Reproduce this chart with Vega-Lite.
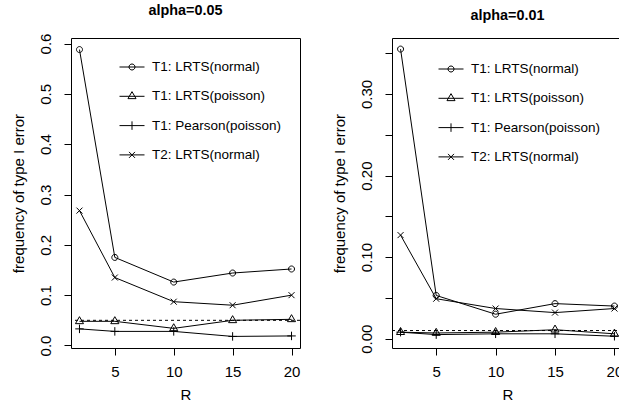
{
  "$schema": "https://vega.github.io/schema/vega-lite/v6.json",
  "padding": {"left": 10, "top": 2, "right": 0, "bottom": 0},
  "background": "white",
  "config": {
    "font": "Liberation Sans",
    "view": {"stroke": "black", "strokeWidth": 1},
    "axis": {
      "domain": false, "grid": false, "tickColor": "black", "tickSize": 7, "tickWidth": 1,
      "labelColor": "black", "labelFontSize": 15, "labelFont": "Liberation Sans",
      "titleColor": "black", "titleFontSize": 15, "titleFontWeight": "normal", "titleFont": "Liberation Sans"
    },
    "axisY": {"labelAngle": 270, "labelAlign": "center", "labelBaseline": "alphabetic", "labelPadding": 14, "titlePadding": 12},
    "axisX": {"labelPadding": 9, "titlePadding": 8},
    "title": {"fontSize": 14.4, "fontWeight": "bold", "color": "black", "font": "Liberation Sans", "offset": 15, "anchor": "middle"},
    "legend": {
      "orient": "none", "title": null, "padding": 0, "symbolSize": 625, "symbolStrokeWidth": 1,
      "symbolStrokeColor": "black", "symbolFillColor": "transparent", "labelFontSize": 13.5,
      "labelColor": "black", "labelFont": "Liberation Sans", "labelOffset": 7, "rowPadding": 9.3
    }
  },
  "bounds": "flush",
  "spacing": 92,
  "datasets": {
    "err": [
      {"panel": "a05", "series": "T1: LRTS(normal)", "R": 2, "value": 0.588},
      {"panel": "a05", "series": "T1: LRTS(normal)", "R": 5, "value": 0.175},
      {"panel": "a05", "series": "T1: LRTS(normal)", "R": 10, "value": 0.126},
      {"panel": "a05", "series": "T1: LRTS(normal)", "R": 15, "value": 0.144},
      {"panel": "a05", "series": "T1: LRTS(normal)", "R": 20, "value": 0.152},
      {"panel": "a05", "series": "T1: LRTS(poisson)", "R": 2, "value": 0.048},
      {"panel": "a05", "series": "T1: LRTS(poisson)", "R": 5, "value": 0.048},
      {"panel": "a05", "series": "T1: LRTS(poisson)", "R": 10, "value": 0.034},
      {"panel": "a05", "series": "T1: LRTS(poisson)", "R": 15, "value": 0.050},
      {"panel": "a05", "series": "T1: LRTS(poisson)", "R": 20, "value": 0.052},
      {"panel": "a05", "series": "T1: Pearson(poisson)", "R": 2, "value": 0.033},
      {"panel": "a05", "series": "T1: Pearson(poisson)", "R": 5, "value": 0.028},
      {"panel": "a05", "series": "T1: Pearson(poisson)", "R": 10, "value": 0.028},
      {"panel": "a05", "series": "T1: Pearson(poisson)", "R": 15, "value": 0.018},
      {"panel": "a05", "series": "T1: Pearson(poisson)", "R": 20, "value": 0.019},
      {"panel": "a05", "series": "T2: LRTS(normal)", "R": 2, "value": 0.268},
      {"panel": "a05", "series": "T2: LRTS(normal)", "R": 5, "value": 0.135},
      {"panel": "a05", "series": "T2: LRTS(normal)", "R": 10, "value": 0.087},
      {"panel": "a05", "series": "T2: LRTS(normal)", "R": 15, "value": 0.080},
      {"panel": "a05", "series": "T2: LRTS(normal)", "R": 20, "value": 0.100},
      {"panel": "a01", "series": "T1: LRTS(normal)", "R": 2, "value": 0.355},
      {"panel": "a01", "series": "T1: LRTS(normal)", "R": 5, "value": 0.053},
      {"panel": "a01", "series": "T1: LRTS(normal)", "R": 10, "value": 0.030},
      {"panel": "a01", "series": "T1: LRTS(normal)", "R": 15, "value": 0.043},
      {"panel": "a01", "series": "T1: LRTS(normal)", "R": 20, "value": 0.040},
      {"panel": "a01", "series": "T1: LRTS(poisson)", "R": 2, "value": 0.008},
      {"panel": "a01", "series": "T1: LRTS(poisson)", "R": 5, "value": 0.007},
      {"panel": "a01", "series": "T1: LRTS(poisson)", "R": 10, "value": 0.008},
      {"panel": "a01", "series": "T1: LRTS(poisson)", "R": 15, "value": 0.011},
      {"panel": "a01", "series": "T1: LRTS(poisson)", "R": 20, "value": 0.006},
      {"panel": "a01", "series": "T1: Pearson(poisson)", "R": 2, "value": 0.008},
      {"panel": "a01", "series": "T1: Pearson(poisson)", "R": 5, "value": 0.005},
      {"panel": "a01", "series": "T1: Pearson(poisson)", "R": 10, "value": 0.006},
      {"panel": "a01", "series": "T1: Pearson(poisson)", "R": 15, "value": 0.006},
      {"panel": "a01", "series": "T1: Pearson(poisson)", "R": 20, "value": 0.003},
      {"panel": "a01", "series": "T2: LRTS(normal)", "R": 2, "value": 0.127},
      {"panel": "a01", "series": "T2: LRTS(normal)", "R": 5, "value": 0.049},
      {"panel": "a01", "series": "T2: LRTS(normal)", "R": 10, "value": 0.037},
      {"panel": "a01", "series": "T2: LRTS(normal)", "R": 15, "value": 0.032},
      {"panel": "a01", "series": "T2: LRTS(normal)", "R": 20, "value": 0.037}
    ]
  },
  "hconcat": [
    {
      "width": 229, "height": 310,
      "title": "alpha=0.05",
      "layer": [
        {
          "data": {"name": "err"},
          "transform": [{"filter": "datum.panel === 'a05'"}],
          "mark": {"type": "line", "color": "black", "strokeWidth": 1},
          "encoding": {
            "x": {"field": "R", "type": "quantitative", "scale": {"domain": [1.28, 20.72], "nice": false, "zero": false}, "axis": {"values": [5, 10, 15, 20], "title": "R"}},
            "y": {"field": "value", "type": "quantitative", "scale": {"domain": [-0.005, 0.611], "nice": false, "zero": false}, "axis": {"values": [0, 0.1, 0.2, 0.3, 0.4, 0.5, 0.6], "format": ".1f", "title": "frequency of type I error"}},
            "detail": {"field": "series"}
          }
        },
        {
          "data": {"name": "err"},
          "transform": [{"filter": "datum.panel === 'a05'"}],
          "mark": {"type": "point", "filled": false, "color": "black", "strokeWidth": 1, "size": 36, "opacity": 1},
          "encoding": {
            "x": {"field": "R", "type": "quantitative"},
            "y": {"field": "value", "type": "quantitative"},
            "shape": {
              "field": "series", "type": "nominal", "legend": null,
              "scale": {
                "domain": ["T1: LRTS(normal)", "T1: LRTS(poisson)", "T1: Pearson(poisson)", "T2: LRTS(normal)"],
                "range": ["M1,0A1,1,0,1,1,-1,0A1,1,0,1,1,1,0", "M0,-1.555L1.347,0.778L-1.347,0.778Z", "M-1.414,0H1.414M0,-1.414V1.414", "M-1,-1L1,1M-1,1L1,-1"]
              }
            }
          }
        },
        {
          "data": {"name": "err"},
          "transform": [{"filter": "datum.panel === 'a05'"}],
          "mark": {"type": "point", "filled": false, "color": "black", "strokeWidth": 1, "size": 625, "opacity": 0},
          "encoding": {
            "x": {"field": "R", "type": "quantitative"},
            "y": {"field": "value", "type": "quantitative"},
            "shape": {
              "field": "series", "type": "nominal",
              "scale": {
                "domain": ["T1: LRTS(normal)", "T1: LRTS(poisson)", "T1: Pearson(poisson)", "T2: LRTS(normal)"],
                "range": ["M-1,0H1M0.24,0A0.24,0.24,0,1,1,-0.24,0A0.24,0.24,0,1,1,0.24,0", "M-1,0H1M0,-0.373L0.323,0.187L-0.323,0.187Z", "M-1,0H1M0,-0.34V0.34", "M-1,0H1M-0.24,-0.24L0.24,0.24M-0.24,0.24L0.24,-0.24"]
              },
              "legend": {"legendX": 48, "legendY": 16}
            }
          }
        },
        {
          "data": {"values": [{"alpha": 0.05}]},
          "mark": {"type": "rule", "color": "black", "strokeWidth": 1, "strokeDash": [3, 3]},
          "encoding": {"y": {"field": "alpha", "type": "quantitative"}}
        }
      ],
      "resolve": {"scale": {"shape": "independent"}, "legend": {"shape": "independent"}}
    },
    {
      "width": 231, "height": 310,
      "title": "alpha=0.01",
      "layer": [
        {
          "data": {"name": "err"},
          "transform": [{"filter": "datum.panel === 'a01'"}],
          "mark": {"type": "line", "color": "black", "strokeWidth": 1},
          "encoding": {
            "x": {"field": "R", "type": "quantitative", "scale": {"domain": [1.28, 20.72], "nice": false, "zero": false}, "axis": {"values": [5, 10, 15, 20], "title": "R"}},
            "y": {"field": "value", "type": "quantitative", "scale": {"domain": [-0.0114, 0.3686], "nice": false, "zero": false}, "axis": {"values": [0, 0.05, 0.1, 0.15, 0.2, 0.25, 0.3, 0.35], "labelExpr": "round(datum.value * 100) % 10 === 0 ? format(datum.value, '.2f') : ''", "title": "frequency of type I error"}},
            "detail": {"field": "series"}
          }
        },
        {
          "data": {"name": "err"},
          "transform": [{"filter": "datum.panel === 'a01'"}],
          "mark": {"type": "point", "filled": false, "color": "black", "strokeWidth": 1, "size": 36, "opacity": 1},
          "encoding": {
            "x": {"field": "R", "type": "quantitative"},
            "y": {"field": "value", "type": "quantitative"},
            "shape": {
              "field": "series", "type": "nominal", "legend": null,
              "scale": {
                "domain": ["T1: LRTS(normal)", "T1: LRTS(poisson)", "T1: Pearson(poisson)", "T2: LRTS(normal)"],
                "range": ["M1,0A1,1,0,1,1,-1,0A1,1,0,1,1,1,0", "M0,-1.555L1.347,0.778L-1.347,0.778Z", "M-1.414,0H1.414M0,-1.414V1.414", "M-1,-1L1,1M-1,1L1,-1"]
              }
            }
          }
        },
        {
          "data": {"name": "err"},
          "transform": [{"filter": "datum.panel === 'a01'"}],
          "mark": {"type": "point", "filled": false, "color": "black", "strokeWidth": 1, "size": 625, "opacity": 0},
          "encoding": {
            "x": {"field": "R", "type": "quantitative"},
            "y": {"field": "value", "type": "quantitative"},
            "shape": {
              "field": "series", "type": "nominal",
              "scale": {
                "domain": ["T1: LRTS(normal)", "T1: LRTS(poisson)", "T1: Pearson(poisson)", "T2: LRTS(normal)"],
                "range": ["M-1,0H1M0.24,0A0.24,0.24,0,1,1,-0.24,0A0.24,0.24,0,1,1,0.24,0", "M-1,0H1M0,-0.373L0.323,0.187L-0.323,0.187Z", "M-1,0H1M0,-0.34V0.34", "M-1,0H1M-0.24,-0.24L0.24,0.24M-0.24,0.24L0.24,-0.24"]
              },
              "legend": {"legendX": 46, "legendY": 18}
            }
          }
        },
        {
          "data": {"values": [{"alpha": 0.01}]},
          "mark": {"type": "rule", "color": "black", "strokeWidth": 1, "strokeDash": [3, 3]},
          "encoding": {"y": {"field": "alpha", "type": "quantitative"}}
        }
      ],
      "resolve": {"scale": {"shape": "independent"}, "legend": {"shape": "independent"}}
    }
  ],
  "resolve": {"scale": {"shape": "independent", "y": "independent"}, "legend": {"shape": "independent"}}
}
